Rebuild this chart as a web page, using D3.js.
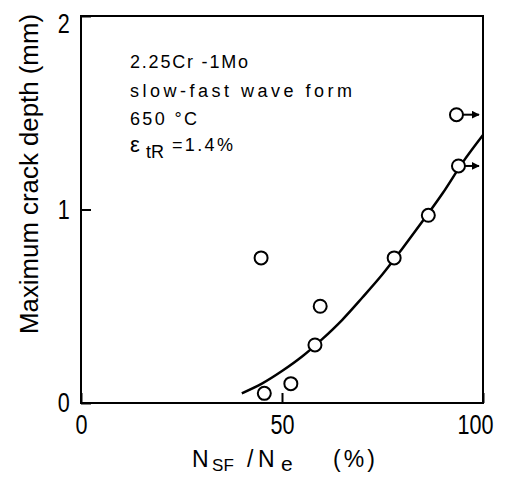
<!DOCTYPE html>
<html>
<head>
<meta charset="utf-8">
<script src="https://cdn.jsdelivr.net/npm/d3@7"></script>
<style>
  body { margin: 0; background: #fff; }
  svg { display: block; }
  text { fill: #000; font-family: "Liberation Sans", Arial, sans-serif; }
</style>
</head>
<body>
<div id="chart"></div>
<script>
// measured points: N_SF/N_e (%) vs max crack depth (mm)
let ratio = [44.8, 45.6, 52.2, 58.2, 59.5, 77.9, 86.4, 93.9, 93.4];
let depth = [0.75, 0.05, 0.10, 0.30, 0.50, 0.75, 0.97, 1.225, 1.49];
// points still running (arrow to the right)
let runout = [false, false, false, false, false, false, false, true, true];

// hand-drawn trend curve
let curveX = [40, 45, 50, 55, 60, 65, 70, 75, 80, 85, 90, 95, 100];
let curveY = [0.05, 0.10, 0.165, 0.24, 0.33, 0.43, 0.545, 0.665, 0.80, 0.94, 1.085, 1.245, 1.385];

let xTicks = [0, 50, 100];
let yTicks = [0, 1, 2];

let notes = ["2.25Cr -1Mo", "slow-fast wave form", "650 °C"];
let noteWidths = [118, 222, 67];

let width = 505, height = 479;
let margin = { top: 16, right: 22, bottom: 76, left: 81 };

let svg = d3.select("#chart").append("svg")
  .attr("width", width)
  .attr("height", height);

let x = d3.scaleLinear().domain([0, 100]).range([margin.left, width - margin.right]);
let y = d3.scaleLinear().domain([0, 2]).range([height - margin.bottom, margin.top]);

// frame
svg.append("rect")
  .attr("x", x(0)).attr("y", y(2))
  .attr("width", x(100) - x(0)).attr("height", y(0) - y(2))
  .attr("fill", "none").attr("stroke", "#000").attr("stroke-width", 2);

// axes with inward ticks
let xAxis = svg.append("g")
  .attr("transform", "translate(0," + y(0) + ")")
  .call(d3.axisBottom(x).tickValues(xTicks).tickFormat(d3.format("d"))
    .tickSizeInner(-10).tickSizeOuter(0).tickPadding(12));
let yAxis = svg.append("g")
  .attr("transform", "translate(" + x(0) + ",0)")
  .call(d3.axisLeft(y).tickValues(yTicks).tickFormat(d3.format("d"))
    .tickSizeInner(-10).tickSizeOuter(0).tickPadding(14));

[xAxis, yAxis].forEach(function (a) {
  a.select(".domain").remove();
  a.selectAll("line").attr("stroke", "#000").attr("stroke-width", 2);
  a.selectAll("text")
    .style("font-size", "27px")
    .style("font-family", "'Liberation Sans', Arial, sans-serif")
    .attr("fill", "#000")
    .attr("transform", "scale(0.8,1)");
});
xAxis.selectAll("text").filter(d => d === 100).attr("dx", "-10px");
yAxis.selectAll("text").filter(d => d === 2).attr("dy", "0.6em");

// trend curve
let line = d3.line()
  .x((d, i) => x(d))
  .y((d, i) => y(curveY[i]))
  .curve(d3.curveCatmullRom);
svg.append("path")
  .datum(curveX)
  .attr("d", line)
  .attr("fill", "none")
  .attr("stroke", "#000")
  .attr("stroke-width", 2.5);

// arrow head
svg.append("defs").append("marker")
  .attr("id", "arrow")
  .attr("viewBox", "0 0 10 10")
  .attr("refX", 9).attr("refY", 5)
  .attr("markerWidth", 4).attr("markerHeight", 4)
  .attr("orient", "auto")
  .append("path")
  .attr("d", "M0,0 L10,5 L0,10 Z")
  .attr("fill", "#000");

let pts = ratio.map((r, i) => ({ r: r, d: depth[i], run: runout[i] }));

svg.append("g").selectAll("line")
  .data(pts.filter(p => p.run))
  .enter().append("line")
  .attr("x1", d => x(d.r) + 6)
  .attr("x2", d => x(99))
  .attr("y1", d => y(d.d))
  .attr("y2", d => y(d.d))
  .attr("stroke", "#000")
  .attr("stroke-width", 2)
  .attr("marker-end", "url(#arrow)");

svg.append("g").selectAll("circle")
  .data(pts)
  .enter().append("circle")
  .attr("cx", d => x(d.r))
  .attr("cy", d => y(d.d))
  .attr("r", 6.5)
  .attr("fill", "#fff")
  .attr("stroke", "#000")
  .attr("stroke-width", 2);

// annotation
let note = svg.append("g").style("font-size", "18px");
notes.forEach(function (t, i) {
  note.append("text")
    .attr("x", 130).attr("y", 68 + i * 28.5)
    .attr("textLength", noteWidths[i])
    .attr("lengthAdjust", "spacing")
    .text(t);
});
note.append("text").attr("x", 130).attr("y", 152).style("font-size", "22px").text("ε");
note.append("text").attr("x", 146).attr("y", 158).text("tR");
note.append("text").attr("x", 172).attr("y", 151)
  .attr("textLength", 61).attr("lengthAdjust", "spacing").text("=1.4%");

// axis labels
let xl = svg.append("text")
  .attr("y", 467)
  .style("font-size", "23px");
xl.append("tspan").attr("x", 192).text("N");
xl.append("tspan").attr("x", 212).attr("dy", 4).style("font-size", "17px").attr("textLength", 22).text("SF");
xl.append("tspan").attr("x", 247).attr("dy", -4).text("/");
xl.append("tspan").attr("x", 258).text("N");
xl.append("tspan").attr("x", 281).attr("dy", 4).style("font-size", "21px").text("e");
xl.append("tspan").attr("x", 333).attr("dy", -4).attr("textLength", 42).text("(%)");

svg.append("text")
  .attr("transform", "translate(38,174) rotate(-90)")
  .attr("text-anchor", "middle")
  .attr("textLength", 320)
  .attr("lengthAdjust", "spacingAndGlyphs")
  .style("font-size", "25px")
  .text("Maximum crack depth (mm)");
</script>
</body>
</html>
